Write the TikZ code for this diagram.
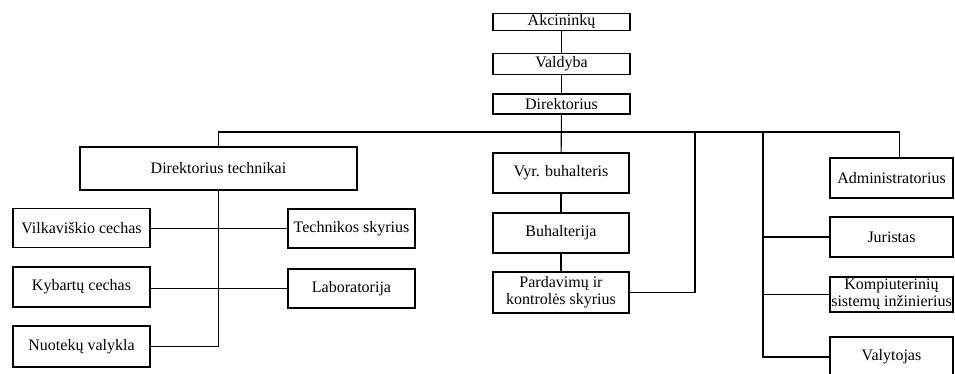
\documentclass[tikz,border=0pt]{standalone}
\usepackage{fontspec}
\setmainfont{Liberation Serif}
\usepackage{tikz}
\usetikzlibrary{positioning}

\tikzset{
  unit/.style={draw, line width=1.1pt, inner sep=1pt, align=center,
    font=\fontsize{16}{17}\selectfont},
  link/.style={line width=1.1pt}
}

\begin{document}
\begin{tikzpicture}[x=1pt, y=-1pt]
\useasboundingbox (0,0) rectangle (955,374);

  % Define nodes
\node[unit, minimum width=137pt, minimum height=16pt] (akc)  at (561.5,22) {Akcininkų};
\node[unit, minimum width=137pt, minimum height=21pt] (vald) at (561.5,64) {Valdyba};
\node[unit, minimum width=137pt, minimum height=20pt] (dir)  at (561.5,104) {Direktorius};

\node[unit, minimum width=277pt, minimum height=43pt] (dtech) at (218.5,168.5) {Direktorius technikai};
\node[unit, minimum width=137pt, minimum height=39pt] (vilk)  at (81.5,228) {Vilkaviškio cechas};
\node[unit, minimum width=137pt, minimum height=40pt] (kyb)   at (81.5,287) {Kybartų cechas};
\node[unit, minimum width=137pt, minimum height=41pt] (nuot)  at (81.5,346.5) {Nuotekų valykla};
\node[unit, minimum width=127pt, minimum height=39pt] (tech)  at (351.5,228.5) {Technikos skyrius};
\node[unit, minimum width=127pt, minimum height=39pt] (lab)   at (351.5,288.5) {Laboratorija};

\node[unit, minimum width=136pt, minimum height=40pt] (vyr)  at (561,173) {Vyr. buhalteris};
\node[unit, minimum width=136pt, minimum height=40pt] (buh)  at (561,233) {Buhalterija};
\node[unit, minimum width=136pt, minimum height=41pt] (pard) at (561,292.5) {Pardavimų ir\\kontrolės skyrius};

\node[unit, minimum width=123pt, minimum height=40pt] (adm)  at (891.5,178) {Administratorius};
\node[unit, minimum width=123pt, minimum height=40pt] (jur)  at (891.5,237) {Juristas};
\node[unit, minimum width=123pt, minimum height=35pt] (komp) at (891.5,294.5) {Kompiuterinių\\sistemų inžinierius};
\node[unit, minimum width=123pt, minimum height=40pt] (valy) at (891.5,357) {Valytojas};

\coordinate (bus) at (561,132);

  % Connect the nodes
\draw[link] (akc) -- (vald);
\draw[link] (vald) -- (dir);
\draw[link] (dir) -- (vyr);
\draw[link] (vyr) -- (buh);
\draw[link] (buh) -- (pard);
\draw[link] (dtech.north) |- (bus) -| ([xshift=8pt]adm.north);
\draw[link] (dtech.south) |- (nuot.east);
\draw[link] (vilk.east |- tech.west) -- (tech.west);
\draw[link] (kyb.east |- lab.west) -- (lab.west);
\draw[link] (pard.east) -| (695,132);
\draw[link] (763,132) |- (valy.west);
\draw[link] (763,237) -- (jur.west);
\draw[link] (763,294.5) -- (komp.west);

\end{tikzpicture}
\end{document}
